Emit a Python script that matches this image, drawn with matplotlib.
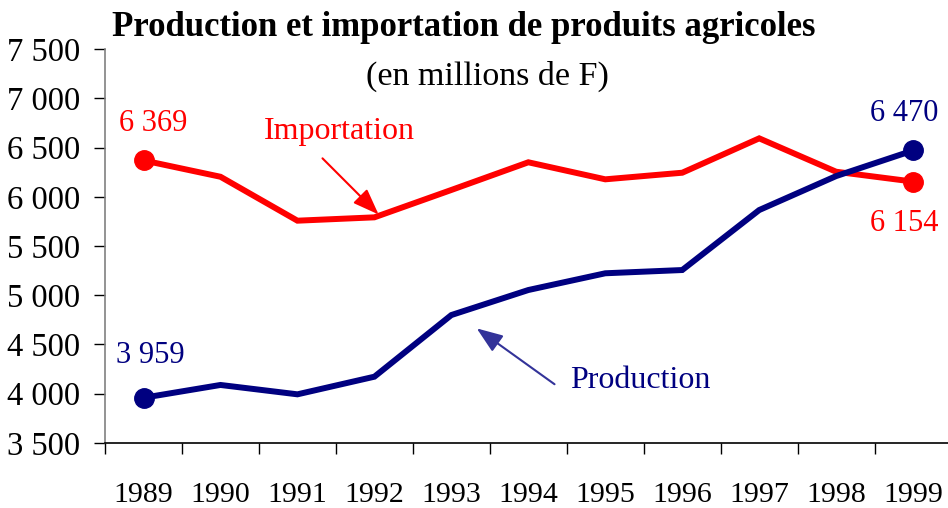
import matplotlib.pyplot as plt
import numpy as np
from matplotlib.ticker import FixedLocator, FuncFormatter

years = ["1989", "1990", "1991", "1992", "1993", "1994",
         "1995", "1996", "1997", "1998", "1999"]
production = [3959, 4089, 3994, 4173, 4799, 5053, 5223, 5256, 5865, 6210, 6470]
importation = [6369, 6203, 5757, 5791, 6069, 6350, 6177, 6244, 6593, 6254, 6154]
yticks = [3500, 4000, 4500, 5000, 5500, 6000, 6500, 7000, 7500]

red = "#ff0000"
navy = "#000080"

plt.rcParams["font.family"] = ["Liberation Serif", "DejaVu Serif"]

fig = plt.figure(figsize=(9.48, 5.08), dpi=100)
ax = fig.add_axes([0.1108, 0.128, 0.893, 0.7755])

x = np.arange(len(years))
ax.plot(x, importation, color=red, lw=4.3, solid_joinstyle="miter", zorder=3)
ax.plot(x, production, color=navy, lw=4.3, solid_joinstyle="miter", zorder=3)
for s, c in [(importation, red), (production, navy)]:
    ax.plot([x[0], x[-1]], [s[0], s[-1]], "o", color=c, ms=14, zorder=4)

fmt = lambda v: f"{v:,.0f}".replace(",", " ")

# value labels at the ends
lab = dict(textcoords="offset pixels", ha="center", va="center", fontsize=22)
ax.annotate(fmt(importation[0]), (x[0], importation[0]), xytext=(10, 37), color=red, **lab)
ax.annotate(fmt(production[0]), (x[0], production[0]), xytext=(7, 42), color=navy, **lab)
ax.annotate(fmt(production[-1]), (x[-1], production[-1]), xytext=(-9, 37), color=navy, **lab)
ax.annotate(fmt(importation[-1]), (x[-1], importation[-1]), xytext=(-9, -42), color=red, **lab)

# series names with arrows
ax.annotate("", xy=(3.08, 5800), xytext=(2.3, 6410),
            arrowprops=dict(arrowstyle="-|>,head_length=1.6,head_width=0.6",
                            color=red, lw=1.5))
ax.text(2.55, 6660, "Importation", color=red, fontsize=23, ha="center", va="center")
ax.annotate("", xy=(4.3, 4680), xytext=(5.37, 4080),
            arrowprops=dict(arrowstyle="-|>,head_length=1.6,head_width=0.6",
                            color="#333399", lw=1.5))
ax.text(6.45, 4130, "Production", color=navy, fontsize=23, ha="center", va="center")

ax.set_xlim(-0.5, len(years) - 0.5)
ax.set_ylim(3500, 7500)
ax.xaxis.set_major_locator(FixedLocator(np.arange(len(years) + 1) - 0.5))
ax.xaxis.set_minor_locator(FixedLocator(x))
ax.set_xticklabels([])
ax.set_xticks(x, years, minor=True)
ax.tick_params(axis="x", which="major", direction="out", length=8, width=1)
ax.tick_params(axis="x", which="minor", length=0, pad=28, labelsize=21.5)
ax.set_yticks(yticks)
ax.yaxis.set_major_formatter(FuncFormatter(lambda v, p: fmt(v)))
ax.tick_params(axis="y", direction="out", length=8, width=1, pad=10, labelsize=23.5)

for s in ["top", "right"]:
    ax.spines[s].set_visible(False)
ax.spines["left"].set_color("#808080")
ax.spines["bottom"].set_color("black")
ax.spines["left"].set_linewidth(1.2)
ax.spines["bottom"].set_linewidth(1.2)

fig.text(0.489, 0.945, "Production et importation de produits agricoles",
         ha="center", va="center", fontsize=25, fontweight="bold")
fig.text(0.514, 0.85, "(en millions de F)", ha="center", va="center", fontsize=24.5)

fig.savefig("out.png", dpi=100)
